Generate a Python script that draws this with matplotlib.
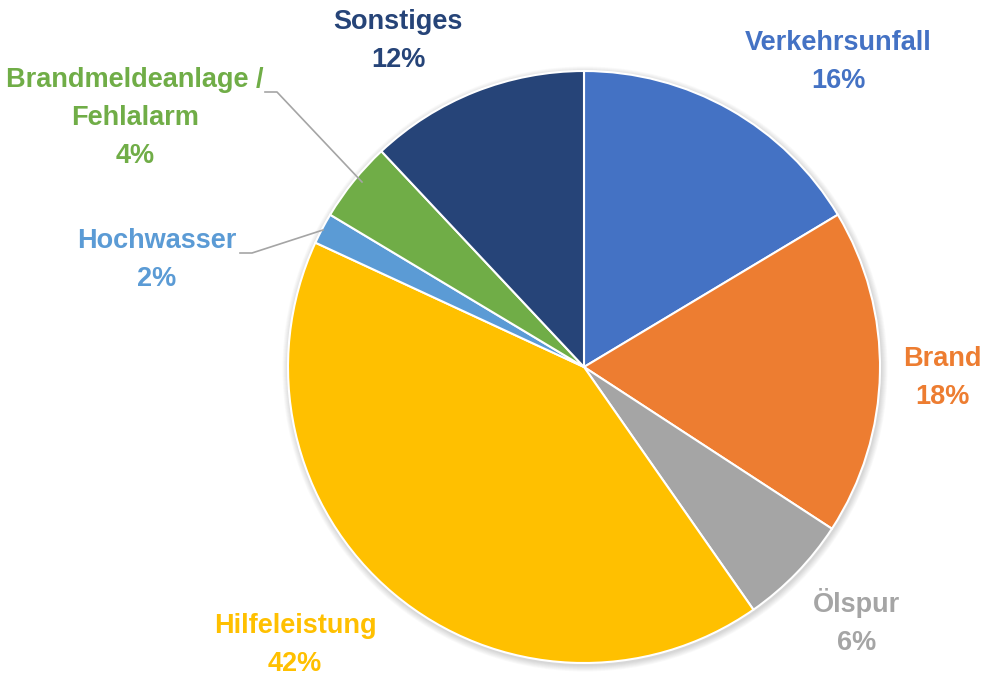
import matplotlib.pyplot as plt
from matplotlib.patches import Circle

labels = ["Verkehrsunfall", "Brand", "Ölspur", "Hilfeleistung", "Hochwasser",
          "Brandmeldeanlage /\nFehlalarm", "Sonstiges"]
values = [16.4, 17.8, 6.1, 41.6, 1.7, 4.4, 12.0]
colors = ["#4472C4", "#ED7D31", "#A5A5A5", "#FFC000", "#5B9BD5", "#70AD47", "#264478"]

# label positions (pixel coords from top-left), placed like the Excel chart
label_pos = [(838, 62), (942, 378), (857, 622), (295, 645), (157, 260), (135, 118), (398, 41)]

plt.rcParams['font.family'] = ['Liberation Sans', 'DejaVu Sans']

fig = plt.figure(figsize=(9.81, 6.77), dpi=100)
ax = fig.add_axes([0, 0, 1, 1])

cx, cy, r = 584, 677 - 367, 296

# soft shadow
for i in range(8):
    ax.add_patch(Circle((cx + 1, cy - 2), r + 1 + i * 0.8, color='black',
                        alpha=0.018, lw=0, zorder=0))

ax.pie(values, colors=colors, startangle=90, counterclock=False,
       center=(cx, cy), radius=r, frame=True,
       wedgeprops=dict(edgecolor='white', linewidth=1.5))
ax.set_xlim(0, 981)
ax.set_ylim(0, 677)
ax.axis('off')

for lab, v, c, (px, py) in zip(labels, values, colors, label_pos):
    ax.text(px, 677 - py, f"{lab}\n{round(v):.0f}%", color=c, fontsize=19.5,
            fontweight='bold', ha='center', va='center', linespacing=1.6)

# leader lines
ax.plot([240, 252, 323], [677 - 253, 677 - 253, 677 - 230], color='#A5A5A5', lw=1.2)
ax.plot([265, 277, 362], [677 - 92, 677 - 92, 677 - 182], color='#A5A5A5', lw=1.2)

fig.savefig("out.png", dpi=100)
